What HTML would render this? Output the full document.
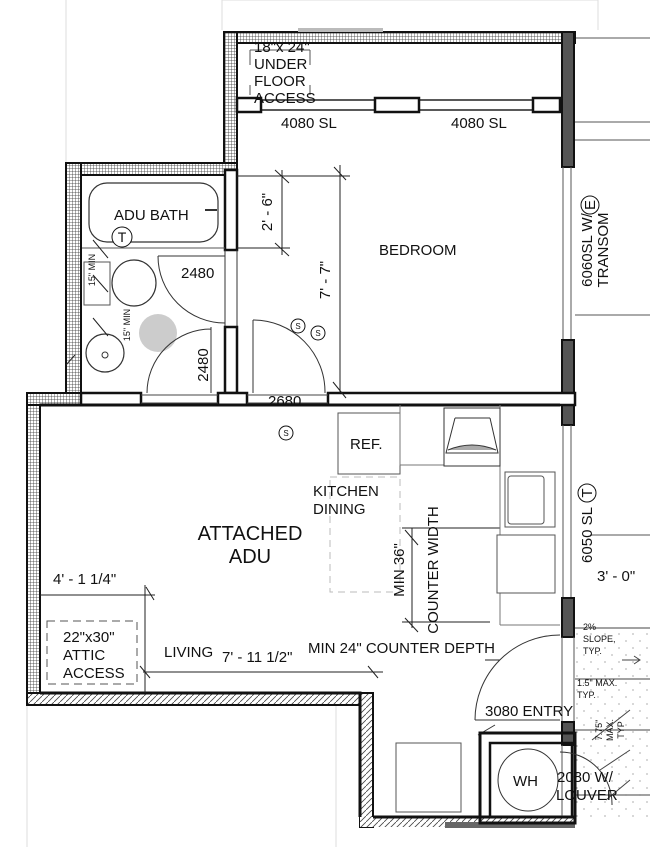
<!DOCTYPE html>
<html><head><style>
html,body{margin:0;padding:0;background:#fff;}
svg{display:block;font-family:"Liberation Sans",Arial,sans-serif;}
text{fill:#111;}
</style></head><body>
<svg width="650" height="847" viewBox="0 0 650 847" xmlns="http://www.w3.org/2000/svg">
<defs>
<pattern id="grid" width="3" height="3" patternUnits="userSpaceOnUse">
<rect width="3" height="3" fill="#fff"/><path d="M0 0H3M0 0V3" stroke="#333" stroke-width="0.8"/>
</pattern>
<pattern id="diag" width="6" height="6" patternUnits="userSpaceOnUse">
<rect width="6" height="6" fill="#fff"/><path d="M0 6L6 0" stroke="#444" stroke-width="0.8"/>
</pattern>
<pattern id="dots" width="14" height="14" patternUnits="userSpaceOnUse">
<circle cx="3" cy="4" r="0.6" fill="#777"/><circle cx="10" cy="11" r="0.6" fill="#777"/>
</pattern>
</defs>
<rect width="650" height="847" fill="#fff"/>
<g stroke="#ddd" stroke-width="1" fill="none">
<path d="M66 0V163M222 0V30M598 0V30M598 0H222M27 705V847M336 705V847"/>
</g>
<g stroke="#555" stroke-width="1">
<path d="M575 38H650M575 122H650M575 315H650M575 140H650M590 535H650"/>
</g>
<rect x="575" y="628" width="75" height="190" fill="url(#dots)"/>
<g stroke="#444" stroke-width="1" fill="none">
<path d="M575 628H650M575 679H650M575 730H650M575 795H650"/>
<path d="M622 660H640M634 656L640 660L634 664"/>
<path d="M592 740L630 710M600 770L630 750M606 800L630 780"/>
</g>
<rect x="224" y="32" width="351" height="11" fill="url(#grid)" stroke="#111" stroke-width="2"/>
<rect x="298" y="28" width="85" height="4" fill="#bbb"/>
<rect x="224" y="32" width="13" height="143" fill="url(#grid)" stroke="#111" stroke-width="2"/>
<rect x="66" y="163" width="171" height="12" fill="url(#grid)" stroke="#111" stroke-width="2"/>
<rect x="66" y="163" width="15" height="230" fill="url(#grid)" stroke="#111" stroke-width="2"/>
<rect x="27" y="393" width="13" height="312" fill="url(#grid)" stroke="#111" stroke-width="2"/>
<rect x="27" y="393" width="55" height="12" fill="url(#grid)" stroke="#111" stroke-width="2"/>
<rect x="27" y="693" width="346" height="12" fill="url(#diag)" stroke="#111" stroke-width="2"/>
<rect x="360" y="693" width="13" height="134" fill="url(#diag)" stroke="#111" stroke-width="2"/>
<path d="M40 693H360V817" stroke="#111" stroke-width="3" fill="none"/>
<rect x="360" y="817" width="215" height="10" fill="url(#diag)"/>
<path d="M373 817H575" stroke="#111" stroke-width="3"/>
<rect x="445" y="822" width="130" height="6" fill="#666"/>
<rect x="562" y="32" width="12" height="135" fill="#555" stroke="#111" stroke-width="2"/>
<path d="M563 167V340M571 167V340" stroke="#555" stroke-width="1"/>
<rect x="562" y="340" width="12" height="85" fill="#555" stroke="#111" stroke-width="2"/>
<path d="M563 425V598M571 425V598" stroke="#555" stroke-width="1"/>
<rect x="562" y="598" width="12" height="39" fill="#555" stroke="#111" stroke-width="2"/>
<path d="M562 637V722M574 637V722" stroke="#555" stroke-width="1"/>
<rect x="562" y="722" width="12" height="23" fill="#555" stroke="#111" stroke-width="2"/>
<path d="M562 745V817M574 745V817" stroke="#555" stroke-width="1"/>
<path d="M237 100H560M237 110H560" stroke="#222" stroke-width="1.5"/>
<rect x="237" y="98" width="24" height="14" fill="#fff" stroke="#111" stroke-width="2.5"/>
<rect x="375" y="98" width="44" height="14" fill="#fff" stroke="#111" stroke-width="2.5"/>
<rect x="533" y="98" width="27" height="14" fill="#fff" stroke="#111" stroke-width="2.5"/>
<path d="M250 50V65M250 85V95M310 50V65M310 85V95M250 50H310" stroke="#555" stroke-width="1" fill="none"/>
<rect x="225" y="170" width="12" height="80" fill="#fff" stroke="#111" stroke-width="2.5"/>
<path d="M225 250V327M237 250V327" stroke="#333" stroke-width="1"/>
<rect x="225" y="327" width="12" height="66" fill="#fff" stroke="#111" stroke-width="2.5"/>
<rect x="81" y="393" width="60" height="12" fill="#fff" stroke="#111" stroke-width="2.5"/>
<rect x="218" y="393" width="29" height="12" fill="#fff" stroke="#111" stroke-width="2.5"/>
<rect x="328" y="393" width="247" height="12" fill="#fff" stroke="#111" stroke-width="2.5"/>
<path d="M141 395H218M141 403H218M247 395H328M247 403H328" stroke="#444" stroke-width="1"/>
<path d="M40 405H560" stroke="#111" stroke-width="3"/>
<rect x="89" y="183" width="129" height="59" rx="18" fill="#fff" stroke="#333" stroke-width="1.2"/>
<path d="M205 210h12" stroke="#333" stroke-width="2"/>
<path d="M82 248H225" stroke="#555" stroke-width="1"/>
<circle cx="122" cy="237" r="10" fill="#fff" stroke="#111"/>
<text x="122" y="242" font-size="14" text-anchor="middle">T</text>
<rect x="84" y="262" width="26" height="43" fill="#fff" stroke="#555"/>
<ellipse cx="134" cy="283" rx="22" ry="23" fill="#fff" stroke="#333" stroke-width="1.2"/>
<circle cx="158" cy="333" r="19" fill="#ccc"/>
<ellipse cx="105" cy="353" rx="19" ry="19" fill="#fff" stroke="#333" stroke-width="1.2"/>
<circle cx="105" cy="355" r="3" fill="none" stroke="#333"/>
<path d="M158 256H225M158 256A67 67 0 0 0 225 323" stroke="#333" stroke-width="1" fill="none"/>
<path d="M211 327V393M147 393A64 64 0 0 1 211 329" stroke="#333" stroke-width="1" fill="none"/>
<path d="M253 320V393M253 320A72 72 0 0 1 325 393" stroke="#333" stroke-width="1" fill="none"/>
<g stroke="#222" stroke-width="1" fill="none">
<path d="M237 176H350M237 248H290M282 170V255M340 165V393"/>
<path d="M275 170L289 183M275 243L289 256M334 167L346 180M333 382L346 398"/>
<path d="M40 595H155M146 587L154 600M143 672H383M140 666L150 678M368 666L378 678M145 585V693"/>
<path d="M412 528V628M405 530L418 545M405 618L418 632M402 528H500M402 622H490"/>
<path d="M93 240L108 258M93 275L108 292M93 318L108 336M66 365L75 355"/>
<path d="M485 660H500"/>
</g>
<rect x="338" y="413" width="62" height="61" fill="#fff" stroke="#555"/>
<path d="M400 405V465H500V625M500 465V405M500 625H560" stroke="#777" stroke-width="1" fill="none"/>
<rect x="444" y="408" width="56" height="58" fill="#fff" stroke="#333"/>
<path d="M455 418H490M455 418L446 453H498L490 418" fill="none" stroke="#333"/>
<path d="M448 450Q472 440 496 450" fill="#aaa" stroke="#333"/>
<rect x="505" y="472" width="50" height="55" fill="#fff" stroke="#555"/>
<rect x="508" y="476" width="36" height="48" rx="3" fill="none" stroke="#555"/>
<rect x="497" y="535" width="58" height="58" fill="#fff" stroke="#555"/>
<rect x="330" y="477" width="70" height="115" fill="none" stroke="#bbb" stroke-dasharray="7 5"/>
<rect x="47" y="621" width="90" height="63" fill="none" stroke="#555" stroke-dasharray="8 5"/>
<path d="M475 720H560M475 720A85 85 0 0 1 560 635" stroke="#333" fill="none"/>
<path d="M495 725L478 735M485 732H575" stroke="#333"/>
<rect x="480" y="733" width="95" height="90" fill="none" stroke="#111" stroke-width="3"/>
<rect x="490" y="743" width="82" height="74" fill="none" stroke="#111" stroke-width="2.5"/>
<ellipse cx="528" cy="780" rx="30" ry="31" fill="#fff" stroke="#333"/>
<path d="M560 752A52 52 0 0 1 612 805" stroke="#333" fill="none"/>
<rect x="396" y="743" width="65" height="69" fill="#fff" stroke="#555"/>
<g fill="#fff" stroke="#111">
<circle cx="298" cy="326" r="7"/><circle cx="318" cy="333" r="7"/><circle cx="286" cy="433" r="7"/>
<circle cx="590" cy="205" r="9"/><circle cx="587" cy="493" r="9"/>
</g>
<g font-size="8" text-anchor="middle">
<text x="298" y="329">S</text><text x="318" y="336">S</text><text x="286" y="436">S</text>
</g>
<g font-size="15">
<text x="254" y="52">18"x 24"</text>
<text x="254" y="69">UNDER</text>
<text x="254" y="86">FLOOR</text>
<text x="254" y="103">ACCESS</text>
<text x="281" y="128">4080 SL</text>
<text x="451" y="128">4080 SL</text>
<text x="114" y="220">ADU BATH</text>
<text x="379" y="255">BEDROOM</text>
<text x="181" y="278">2480</text>
<text x="268" y="406">2680</text>
<text x="350" y="449">REF.</text>
<text x="313" y="496">KITCHEN</text>
<text x="313" y="514">DINING</text>
<text x="53" y="584">4' - 1 1/4"</text>
<text x="63" y="642">22"x30"</text>
<text x="63" y="660">ATTIC</text>
<text x="63" y="678">ACCESS</text>
<text x="164" y="657">LIVING</text>
<text x="222" y="662">7' - 11 1/2"</text>
<text x="308" y="653">MIN 24" COUNTER DEPTH</text>
<text x="597" y="581">3' - 0"</text>
<text x="485" y="716">3080 ENTRY</text>
<text x="513" y="786">WH</text>
<text x="557" y="782">2080 W/</text>
<text x="556" y="800">LOUVER</text>
</g>
<g font-size="20" text-anchor="middle">
<text x="250" y="540">ATTACHED</text>
<text x="250" y="563">ADU</text>
</g>
<g font-size="9">
<text x="583" y="630">2%</text>
<text x="583" y="642">SLOPE,</text>
<text x="583" y="654">TYP.</text>
<text x="577" y="686">1.5" MAX.</text>
<text x="577" y="698">TYP.</text>
</g>
<g font-size="15">
<text transform="translate(272 212) rotate(-90)" text-anchor="middle">2' - 6"</text>
<text transform="translate(330 280) rotate(-90)" text-anchor="middle">7' - 7"</text>
<text transform="translate(208 365) rotate(-90)" text-anchor="middle">2480</text>
<text transform="translate(404 570) rotate(-90)" text-anchor="middle">MIN 36"</text>
<text transform="translate(438 570) rotate(-90)" text-anchor="middle">COUNTER WIDTH</text>
<text transform="translate(592 535) rotate(-90)" text-anchor="middle">6050 SL</text>
<text transform="translate(592 250) rotate(-90)" text-anchor="middle">6060SL W/</text>
<text transform="translate(608 250) rotate(-90)" text-anchor="middle">TRANSOM</text>
<text transform="translate(595 205) rotate(-90)" text-anchor="middle">E</text>
<text transform="translate(592 493) rotate(-90)" text-anchor="middle">T</text>
</g>
<g font-size="9">
<text transform="translate(95 270) rotate(-90)" text-anchor="middle">15" MIN</text>
<text transform="translate(130 325) rotate(-90)" text-anchor="middle">15" MIN</text>
<text transform="translate(602 730) rotate(-90)" text-anchor="middle">7.75"</text>
<text transform="translate(613 730) rotate(-90)" text-anchor="middle">MAX.</text>
<text transform="translate(624 730) rotate(-90)" text-anchor="middle">TYP</text>
</g>
</svg>
</body></html>
